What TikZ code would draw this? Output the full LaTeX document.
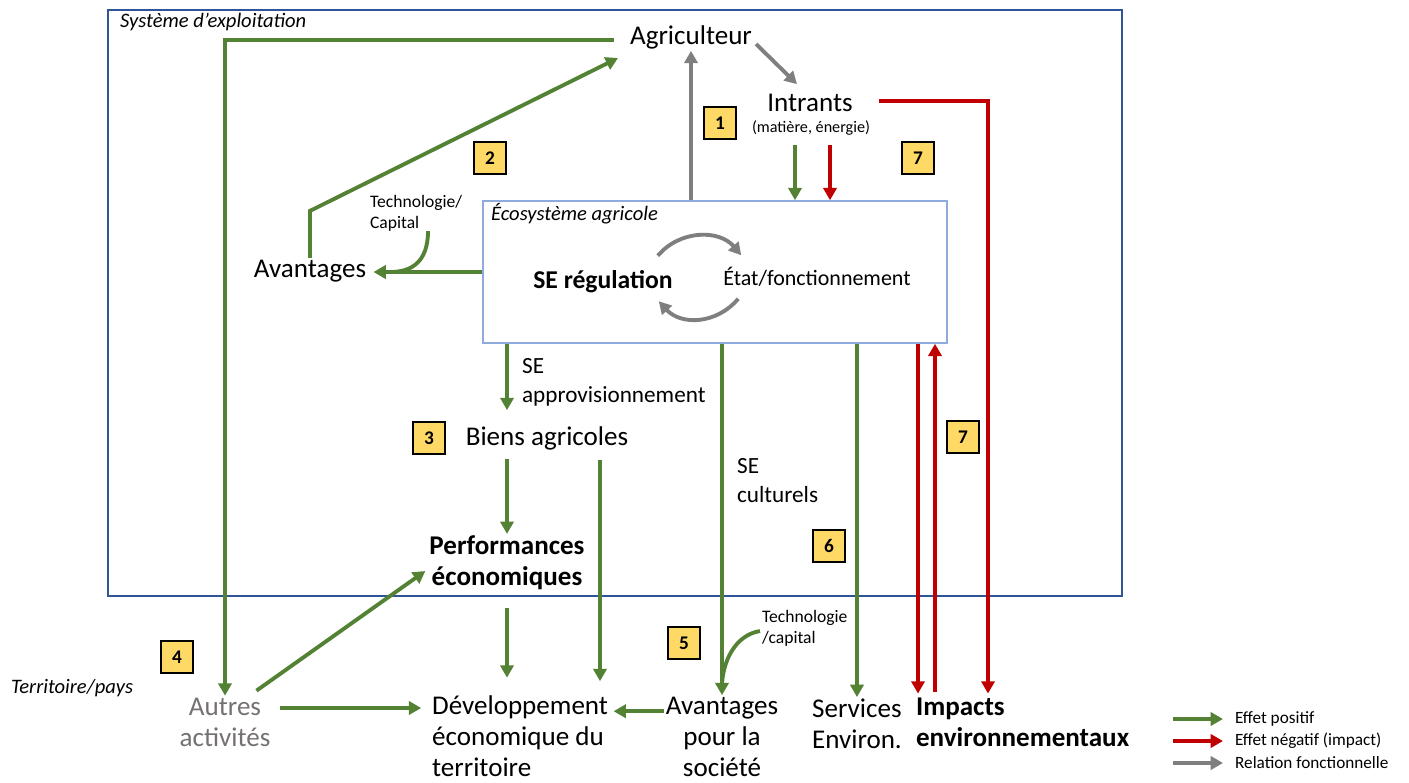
\documentclass[tikz,border=0pt]{standalone}
\usepackage{fontspec}
\setmainfont{Carlito}
\usetikzlibrary{arrows.meta,positioning,calc}

\definecolor{vert}{RGB}{84,130,53}
\definecolor{rouge}{RGB}{192,0,0}
\definecolor{gris}{RGB}{127,127,127}
\definecolor{gristexte}{RGB}{118,113,113}
\definecolor{cadre}{RGB}{47,85,151}
\definecolor{cadreeco}{RGB}{143,170,220}
\definecolor{jaune}{RGB}{255,217,102}

\tikzset{
  fl/.style={line width=2.2pt, -{Triangle[length=7pt,width=7.5pt]}},
  effpos/.style={fl, draw=vert},
  effneg/.style={fl, draw=rouge},
  relfct/.style={fl, draw=gris},
  txt/.style={font=\fontsize{15.4}{17.6}\selectfont, inner sep=1pt},
  gras/.style={font=\bfseries\fontsize{15.4}{17.6}\selectfont, inner sep=1pt},
  moyen/.style={font=\fontsize{13.2}{16.5}\selectfont, inner sep=1pt},
  petit/.style={font=\fontsize{10}{12}\selectfont, inner sep=1pt},
  ital/.style={font=\itshape\fontsize{11.7}{13}\selectfont, inner sep=1pt},
  leg/.style={font=\fontsize{9.8}{11}\selectfont, inner sep=1pt, anchor=west},
  badge/.style={draw, line width=1.3pt, fill=jaune, minimum size=0.64cm, inner sep=0pt,
    font=\bfseries\fontsize{11}{12}\selectfont},
}

\begin{document}
\begin{tikzpicture}[x=0.02cm, y=-0.02cm]
\useasboundingbox (0,0) rectangle (1409,782);

% cadres
\node[draw=cadre, line width=1.2pt, minimum width=20.28cm, minimum height=11.72cm, inner sep=0pt] (expl) at (615,303) {};
\node[ital, anchor=west] (lexpl) at (118,22) {Système d’exploitation};
\node[draw=cadreeco, line width=0.9pt, fill=white, minimum width=9.28cm, minimum height=2.84cm, inner sep=0pt] (eco) at (715,272) {};
\node[ital, anchor=west] (leco) at (489,214) {Écosystème agricole};
\node[ital, anchor=west] (terr) at (9,688) {Territoire/pays};

% noeuds
\node[txt] (agri) at (691,37) {Agriculteur};
\node[txt] (intr) at (810,103) {Intrants};
\node[font=\fontsize{9.2}{11}\selectfont, inner sep=1pt] (mat) at (811,128) {(matière, énergie)};
\node[txt] (avt) at (310,271) {Avantages};
\node[petit, align=left, anchor=west] (tech1) at (368,213) {Technologie/\\Capital};
\node[font=\bfseries\fontsize{14.6}{17}\selectfont, inner sep=1pt] (seg) at (603,282) {SE régulation};
\node[font=\fontsize{12.5}{15}\selectfont, inner sep=1pt] (etat) at (817,277) {État/fonctionnement};
\node[moyen, align=left, anchor=west] (appro) at (520,382) {SE\\approvisionnement};
\node[txt] (biens) at (547,438) {Biens agricoles};
\node[gras, align=center] (perf) at (507,563) {Performances\\économiques};
\node[moyen, align=left, anchor=west] (cult) at (735,481) {SE\\culturels};
\node[petit, align=left, anchor=west] (tech2) at (760,628) {Technologie\\/capital};
\node[txt, align=center, text=gristexte] (autres) at (225,722) {Autres\\activités};
\node[txt, align=left, anchor=west] (dev) at (430,736) {Développement\\économique du\\territoire};
\node[txt, align=center] (avs) at (722,737) {Avantages\\pour la\\société};
\node[txt, align=left, anchor=west] (serv) at (810,724) {Services\\Environ.};
\node[gras, align=left, anchor=west] (imp) at (914,722) {Impacts\\environnementaux};

% pastilles
\node[badge] (b1) at (720,123) {1};
\node[badge] (b2) at (490,158) {2};
\node[badge] (b7a) at (918,158) {7};
\node[badge] (b3) at (429,438) {3};
\node[badge] (b7b) at (963,437) {7};
\node[badge] (b6) at (829,546) {6};
\node[badge] (b5) at (684,643) {5};
\node[badge] (b4) at (177,657) {4};

% relations fonctionnelles
\draw[relfct] ($(agri.east)+(2,7)$) -- ($(intr.north)+(-13,-8)$);
\draw[relfct] (eco.north -| agri) -- (agri.south);
\draw[relfct] ($(seg.north east)+(-17,-13)$) .. controls +(22,-26) and +(-22,-26) .. ($(etat.north west)+(20,-10)$);
\draw[relfct] ($(etat.south west)+(17,10)$) .. controls +(-22,26) and +(22,24) .. ($(seg.south east)+(-16,6)$);

% effets positifs
\draw[effpos] ($(agri.west)+(-14,3)$) -| (autres.north);
\draw[effpos] (avt.north) -- ++(0,-47) -- ($(agri.west)+(-10,21)$);
\draw[effpos, shorten >=3pt] (eco.west) -- (eco.west -| avt.east);
\coordinate (t1) at ($(tech1.south west)+(60,-2)$);
\draw[vert, line width=2.2pt] (t1) .. controls +(0,32) and +(20,0) .. ($(eco.west -| avt.east)+(22,0)$);
\coordinate (mv) at ($(mat.south)+(-16,8)$);
\draw[effpos] (mv) -- (mv |- eco.north);
\draw[effpos, shorten >=8pt] (eco.south -| perf) -- (biens.north -| perf);
\draw[effpos, shorten <=4pt] (biens.south -| perf) -- (perf.north);
\coordinate (bd) at ($(biens.south)+(53,8)$);
\draw[effpos, shorten >=7pt] (bd) -- (bd |- dev.north);
\draw[effpos, shorten <=9pt, shorten >=9pt] (perf.south) -- (perf.south |- dev.north);
\draw[effpos] (eco.south -| avs) -- (avs.north);
\draw[vert, line width=2.2pt] ($(tech2.west)+(0,3)$) .. controls +(-25,4) and +(0,-25) .. ($(avs.north)+(0,-8)$);
\draw[effpos] (eco.south -| serv) -- (serv.north);
\draw[effpos] ($(autres.north east)+(-16,-5)$) -- ($(perf.west)+(-2,8)$);
\coordinate (a1) at ($(autres.east)+(8,-14)$);
\draw[effpos, shorten >=5pt] (a1) -- (a1 -| dev.west);
\coordinate (a2) at ($(avs.north west)+(0,16)$);
\draw[effpos, shorten >=2pt] (a2) -- (a2 -| dev.east);

% effets negatifs
\coordinate (mr) at ($(mat.south)+(19,8)$);
\draw[effneg] (mr) -- (mr |- eco.north);
\coordinate (r1) at ($(imp.north west)+(4,-2)$);
\draw[effneg] (r1 |- eco.south) -- (r1);
\coordinate (r2) at ($(imp.north west)+(21,-4)$);
\draw[effneg] (r2) -- (r2 |- eco.south);
\coordinate (r3) at ($(imp.north west)+(74,-2)$);
\draw[effneg] ($(intr.east)+(24,-2)$) -| (r3);

% legende
\node[leg] (lpos) at (1233,719) {Effet positif};
\node[leg] (lneg) at (1233,741) {Effet négatif (impact)};
\node[leg] (lfct) at (1233,763) {Relation fonctionnelle};
\draw[effpos] ($(lpos.west)+(-60,0)$) -- ($(lpos.west)+(-10,0)$);
\draw[effneg] ($(lneg.west)+(-60,0)$) -- ($(lneg.west)+(-10,0)$);
\draw[relfct] ($(lfct.west)+(-60,0)$) -- ($(lfct.west)+(-10,0)$);
\end{tikzpicture}
\end{document}
